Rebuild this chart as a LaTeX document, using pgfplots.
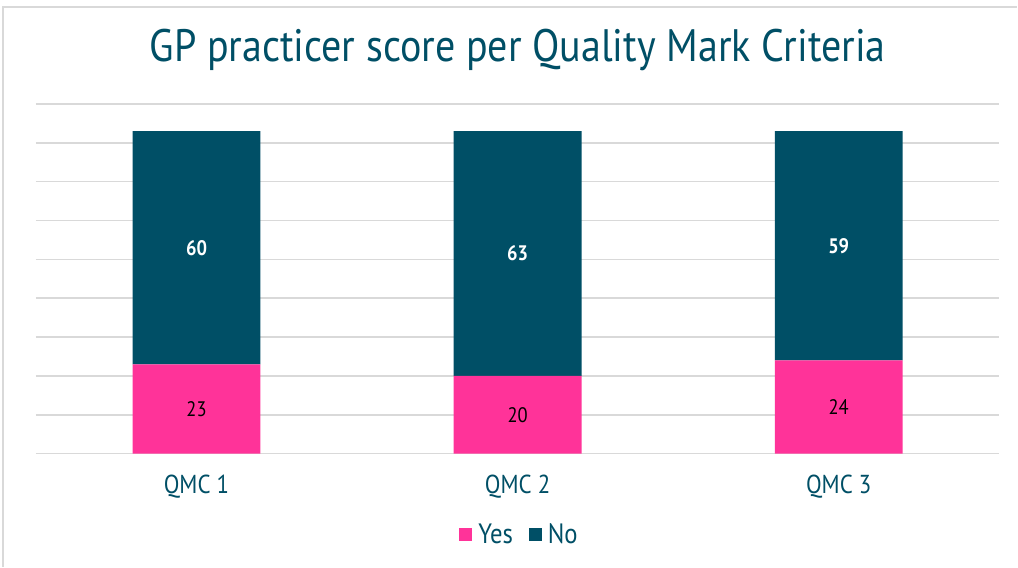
\documentclass[border=0pt]{standalone}
\usepackage{pgfplots}
\pgfplotsset{compat=1.18}
\usepackage{fontspec}
\setmainfont[FakeStretch=0.88]{PT Sans}
\definecolor{teal1}{HTML}{004F66}
\definecolor{pink1}{HTML}{FF3399}
\definecolor{grid1}{HTML}{D9D9D9}
\begin{document}
\begin{tikzpicture}[x=1pt,y=1pt]
\path[fill=white] (0,0) rectangle (1018,567);
\draw[grid1, line width=1.5pt] (3,0) -- (3,560) -- (1018,560);
\node[text=teal1, font=\fontsize{45.5}{50}\selectfont] at (518,517) {GP practicer score per Quality Mark Criteria};
\begin{axis}[
  at={(36pt,113pt)}, anchor=south west,
  scale only axis, width=964pt, height=350pt,
  xmin=-0.5, xmax=2.5, ymin=0, ymax=90,
  ybar stacked, bar width=128pt,
  ytick={0,10,...,90}, yticklabels={},
  ymajorgrids, grid style={color=grid1, line width=1.5pt},
  axis line style={draw=none}, major tick length=0pt,
  xtick={0,1,2}, xticklabels={QMC 1, QMC 2, QMC 3},
  xticklabel style={text=teal1, font=\fontsize{26}{30}\selectfont, yshift=-18pt},
  legend columns=2,
  legend style={draw=none, at={(0.502,-0.231)}, anchor=center,
    font=\fontsize{28}{32}\selectfont, text=teal1,
    /tikz/every even column/.append style={column sep=14pt}},
  legend image code/.code={\fill[#1] (0pt,-6.5pt) rectangle (13pt,6.5pt); \path (17pt,0pt);},
]
\addplot[fill=pink1, draw=none] coordinates {(0,23) (1,20) (2,24)};
\addlegendentry{Yes}
\addplot[fill=teal1, draw=none] coordinates {(0,60) (1,63) (2,59)};
\addlegendentry{No}
\end{axis}
\begin{axis}[
  at={(36pt,113pt)}, anchor=south west,
  scale only axis, width=964pt, height=350pt,
  xmin=-0.5, xmax=2.5, ymin=0, ymax=90, hide axis,
]
\addplot[draw=none, mark=none, nodes near coords, point meta=explicit symbolic,
  every node near coord/.append style={anchor=center, text=black, font=\fontsize{21}{24}\selectfont}]
  coordinates {(0,11.5)[23] (1,10)[20] (2,12)[24]};
\addplot[draw=none, mark=none, nodes near coords, point meta=explicit symbolic,
  every node near coord/.append style={anchor=center, text=white, font=\bfseries\fontsize{21}{24}\selectfont}]
  coordinates {(0,53)[60] (1,51.5)[63] (2,53.5)[59]};
\end{axis}
\end{tikzpicture}
\end{document}
